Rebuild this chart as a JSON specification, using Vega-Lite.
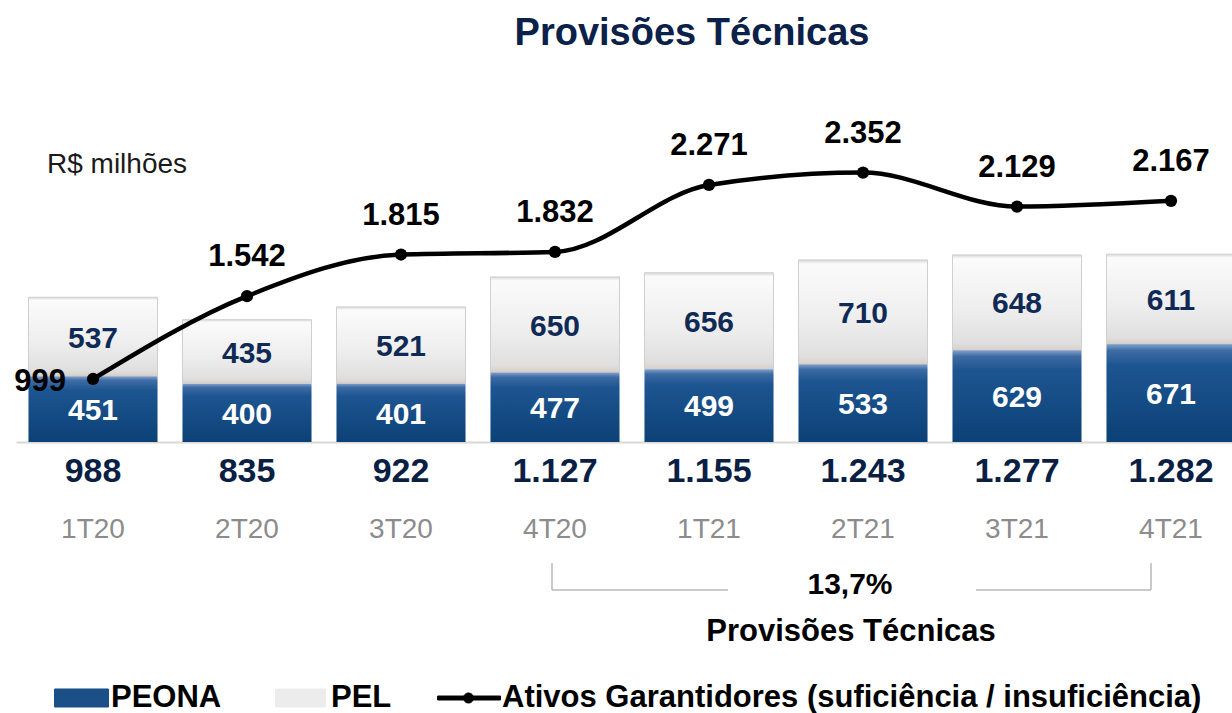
{
  "$schema": "https://vega.github.io/schema/vega-lite/v6.json",
  "width": 1216,
  "height": 362,
  "autosize": {"type": "none"},
  "padding": {"left": 16, "top": 80, "right": 0, "bottom": 271},
  "background": "white",
  "title": {"text": "Provisões Técnicas", "font": "Liberation Sans", "fontSize": 38, "fontWeight": "bold", "color": "#0b2149", "anchor": "middle", "frame": "group", "dx": 68, "offset": -3, "baseline": "alphabetic"},
  "config": {
    "view": {"stroke": null},
    "locale": {"number": {"decimal": ",", "thousands": ".", "grouping": [3], "currency": ["R$ ", ""]}},
    "text": {"font": "Liberation Sans"}
  },
  "data": {"values": [
    {"q": "1T20", "peona": 451, "pel": 537, "total": 988, "ativos": 999},
    {"q": "2T20", "peona": 400, "pel": 435, "total": 835, "ativos": 1542},
    {"q": "3T20", "peona": 401, "pel": 521, "total": 922, "ativos": 1815},
    {"q": "4T20", "peona": 477, "pel": 650, "total": 1127, "ativos": 1832},
    {"q": "1T21", "peona": 499, "pel": 656, "total": 1155, "ativos": 2271},
    {"q": "2T21", "peona": 533, "pel": 710, "total": 1243, "ativos": 2352},
    {"q": "3T21", "peona": 629, "pel": 648, "total": 1277, "ativos": 2129},
    {"q": "4T21", "peona": 671, "pel": 611, "total": 1282, "ativos": 2167}
  ]},
  "encoding": {
    "x": {
      "field": "q", "type": "nominal", "sort": null, "title": null,
      "scale": {"range": [0, 1232], "paddingInner": 0.162, "paddingOuter": 0.081},
      "axis": {"title": null, "labelFont": "Liberation Sans", "labelFontSize": 28, "labelColor": "#8c8c8c", "labelAngle": 0, "labelPadding": 87, "labelBaseline": "middle", "ticks": false, "tickSize": 0, "domain": true, "domainColor": "#d8d8d8", "domainWidth": 2, "grid": false}
    }
  },
  "layer": [
    {
      "mark": {"type": "bar", "color": {"gradient": "linear", "x1": 0, "y1": 0, "x2": 0, "y2": 1, "stops": [{"offset": 0, "color": "#86a6cf"}, {"offset": 0.07, "color": "#3e6ba4"}, {"offset": 0.22, "color": "#1d5591"}, {"offset": 1, "color": "#0c4176"}]}},
      "encoding": {"y": {"field": "peona", "type": "quantitative", "scale": {"domain": [0, 2471], "nice": false}, "axis": null}}
    },
    {
      "mark": {"type": "bar", "stroke": "#cfcfcf", "strokeWidth": 1, "color": {"gradient": "linear", "x1": 0, "y1": 0, "x2": 0, "y2": 1, "stops": [{"offset": 0, "color": "#d8d8d8"}, {"offset": 0.04, "color": "#fbfbfb"}, {"offset": 0.6, "color": "#ededed"}, {"offset": 0.93, "color": "#dfdfdf"}, {"offset": 1, "color": "#d9cfc9"}]}},
      "encoding": {
        "y": {"field": "peona", "type": "quantitative", "scale": {"domain": [0, 2471], "nice": false}, "axis": null},
        "y2": {"field": "total"}
      }
    },
    {
      "mark": {"type": "text", "dy": 30, "baseline": "middle", "fontSize": 34, "fontWeight": "bold", "color": "#0b1f45", "font": "Liberation Sans"},
      "encoding": {
        "y": {"datum": 0, "type": "quantitative", "scale": {"domain": [0, 2471], "nice": false}, "axis": null},
        "text": {"field": "total", "type": "quantitative", "format": ",d"}
      }
    },
    {
      "mark": {"type": "text", "baseline": "middle", "fontSize": 30, "fontWeight": "bold", "color": "#ffffff", "font": "Liberation Sans", "dy": 2},
      "encoding": {
        "y": {"field": "peona", "type": "quantitative", "scale": {"domain": [0, 4942], "nice": false}, "axis": null},
        "text": {"field": "peona", "type": "quantitative"}
      }
    },
    {
      "transform": [{"fold": ["peona", "total"], "as": ["k", "v"]}],
      "mark": {"type": "text", "baseline": "middle", "fontSize": 30, "fontWeight": "bold", "color": "#102a56", "font": "Liberation Sans", "dy": 2},
      "encoding": {
        "y": {"aggregate": "sum", "field": "v", "type": "quantitative", "scale": {"domain": [0, 4942], "nice": false}, "axis": null},
        "text": {"field": "pel", "type": "quantitative"}
      }
    },
    {
      "mark": {"type": "line", "strokeWidth": 4.5, "interpolate": "monotone", "point": {"filled": true, "size": 150, "color": "#000000"}},
      "encoding": {
        "y": {"field": "ativos", "type": "quantitative", "scale": {"domain": [586, 2959], "nice": false, "zero": false}, "axis": null},
        "color": {
          "datum": "Ativos Garantidores (suficiência / insuficiência)",
          "type": "nominal",
          "scale": {"domain": ["PEONA", "PEL", "Ativos Garantidores (suficiência / insuficiência)"], "range": ["#1a4f87", "#ececec", "#000000"]},
          "legend": {
            "orient": "none", "legendX": 29, "legendY": 586, "direction": "horizontal", "title": null,
            "labelFont": "Liberation Sans", "labelFontSize": 31, "labelFontWeight": "bold", "labelColor": "#000000", "labelLimit": 1000, "labelOffset": 2,
            "symbolSize": 3969, "columnPadding": 43, "padding": 0,
            "encode": {"symbols": {"update": {
              "shape": {"signal": "datum.value === 'PEONA' ? 'M-0.714,-0.286H1V0.286H-0.714Z' : datum.value === 'PEL' ? 'M-0.682,-0.286H0.905V0.286H-0.682Z' : 'M-0.965,-0.063H1.032V0.063H-0.965Z M0.176,0 A0.16,0.16 0 1 1 -0.144,0 A0.16,0.16 0 1 1 0.176,0 Z'"},
              "fill": {"signal": "datum.value === 'PEONA' ? '#1a4f87' : datum.value === 'PEL' ? '#ececec' : '#000000'"},
              "stroke": {"signal": "datum.value === 'PEL' ? '#c4c4c4' : 'transparent'"},
              "strokeWidth": {"value": 1},
              "opacity": {"value": 1}
            }}}
          }
        }
      }
    },
    {
      "transform": [{"filter": "datum.q != '1T20'"}],
      "mark": {"type": "text", "baseline": "middle", "dy": -39, "fontSize": 31, "fontWeight": "bold", "color": "#000000", "font": "Liberation Sans"},
      "encoding": {
        "y": {"field": "ativos", "type": "quantitative", "scale": {"domain": [586, 2959], "nice": false, "zero": false}, "axis": null},
        "text": {"field": "ativos", "type": "quantitative", "format": ",d"}
      }
    },
    {
      "transform": [{"filter": "datum.q == '1T20'"}],
      "mark": {"type": "text", "baseline": "middle", "align": "right", "dx": -27, "dy": 3, "fontSize": 31, "fontWeight": "bold", "color": "#000000", "font": "Liberation Sans"},
      "encoding": {
        "y": {"field": "ativos", "type": "quantitative", "scale": {"domain": [586, 2959], "nice": false, "zero": false}, "axis": null},
        "text": {"field": "ativos", "type": "quantitative", "format": ",d"}
      }
    },
    {
      "data": {"values": [{"pct": "13,7%", "label": "Provisões Técnicas", "unit": "R$ milhões"}]},
      "layer": [
        {
          "mark": {"type": "rule", "color": "#b8b8b8", "strokeWidth": 1.5, "xOffset": -3},
          "encoding": {"x": {"datum": "4T20"}, "y": {"datum": -826, "type": "quantitative", "scale": {"domain": [0, 2471], "nice": false}, "axis": null}, "y2": {"datum": -1010}}
        },
        {
          "mark": {"type": "rule", "color": "#b8b8b8", "strokeWidth": 1.5, "xOffset": -3, "x2Offset": 19},
          "encoding": {"x": {"datum": "4T20"}, "x2": {"datum": "1T21"}, "y": {"datum": -1010, "type": "quantitative", "scale": {"domain": [0, 2471], "nice": false}, "axis": null}}
        },
        {
          "mark": {"type": "rule", "color": "#b8b8b8", "strokeWidth": 1.5, "xOffset": -41, "x2Offset": -20},
          "encoding": {"x": {"datum": "3T21"}, "x2": {"datum": "4T21"}, "y": {"datum": -1010, "type": "quantitative", "scale": {"domain": [0, 2471], "nice": false}, "axis": null}}
        },
        {
          "mark": {"type": "rule", "color": "#b8b8b8", "strokeWidth": 1.5, "xOffset": -20},
          "encoding": {"x": {"datum": "4T21"}, "y": {"datum": -826, "type": "quantitative", "scale": {"domain": [0, 2471], "nice": false}, "axis": null}, "y2": {"datum": -1010}}
        },
        {
          "mark": {"type": "text", "baseline": "middle", "dx": -13, "fontSize": 30, "fontWeight": "bold", "color": "#000000", "font": "Liberation Sans"},
          "encoding": {"x": {"datum": "2T21"}, "y": {"datum": -976, "type": "quantitative", "scale": {"domain": [0, 2471], "nice": false}, "axis": null}, "text": {"field": "pct"}}
        },
        {
          "mark": {"type": "text", "baseline": "middle", "dx": -12, "fontSize": 31, "fontWeight": "bold", "color": "#000000", "font": "Liberation Sans"},
          "encoding": {"x": {"datum": "2T21"}, "y": {"datum": -1297, "type": "quantitative", "scale": {"domain": [0, 2471], "nice": false}, "axis": null}, "text": {"field": "label"}}
        },
        {
          "mark": {"type": "text", "baseline": "middle", "align": "left", "dx": -46, "fontSize": 28, "color": "#1a1a1a", "font": "Liberation Sans"},
          "encoding": {"x": {"datum": "1T20"}, "y": {"datum": 1891, "type": "quantitative", "scale": {"domain": [0, 2471], "nice": false}, "axis": null}, "text": {"field": "unit"}}
        }
      ]
    }
  ],
  "resolve": {"scale": {"y": "independent"}}
}
